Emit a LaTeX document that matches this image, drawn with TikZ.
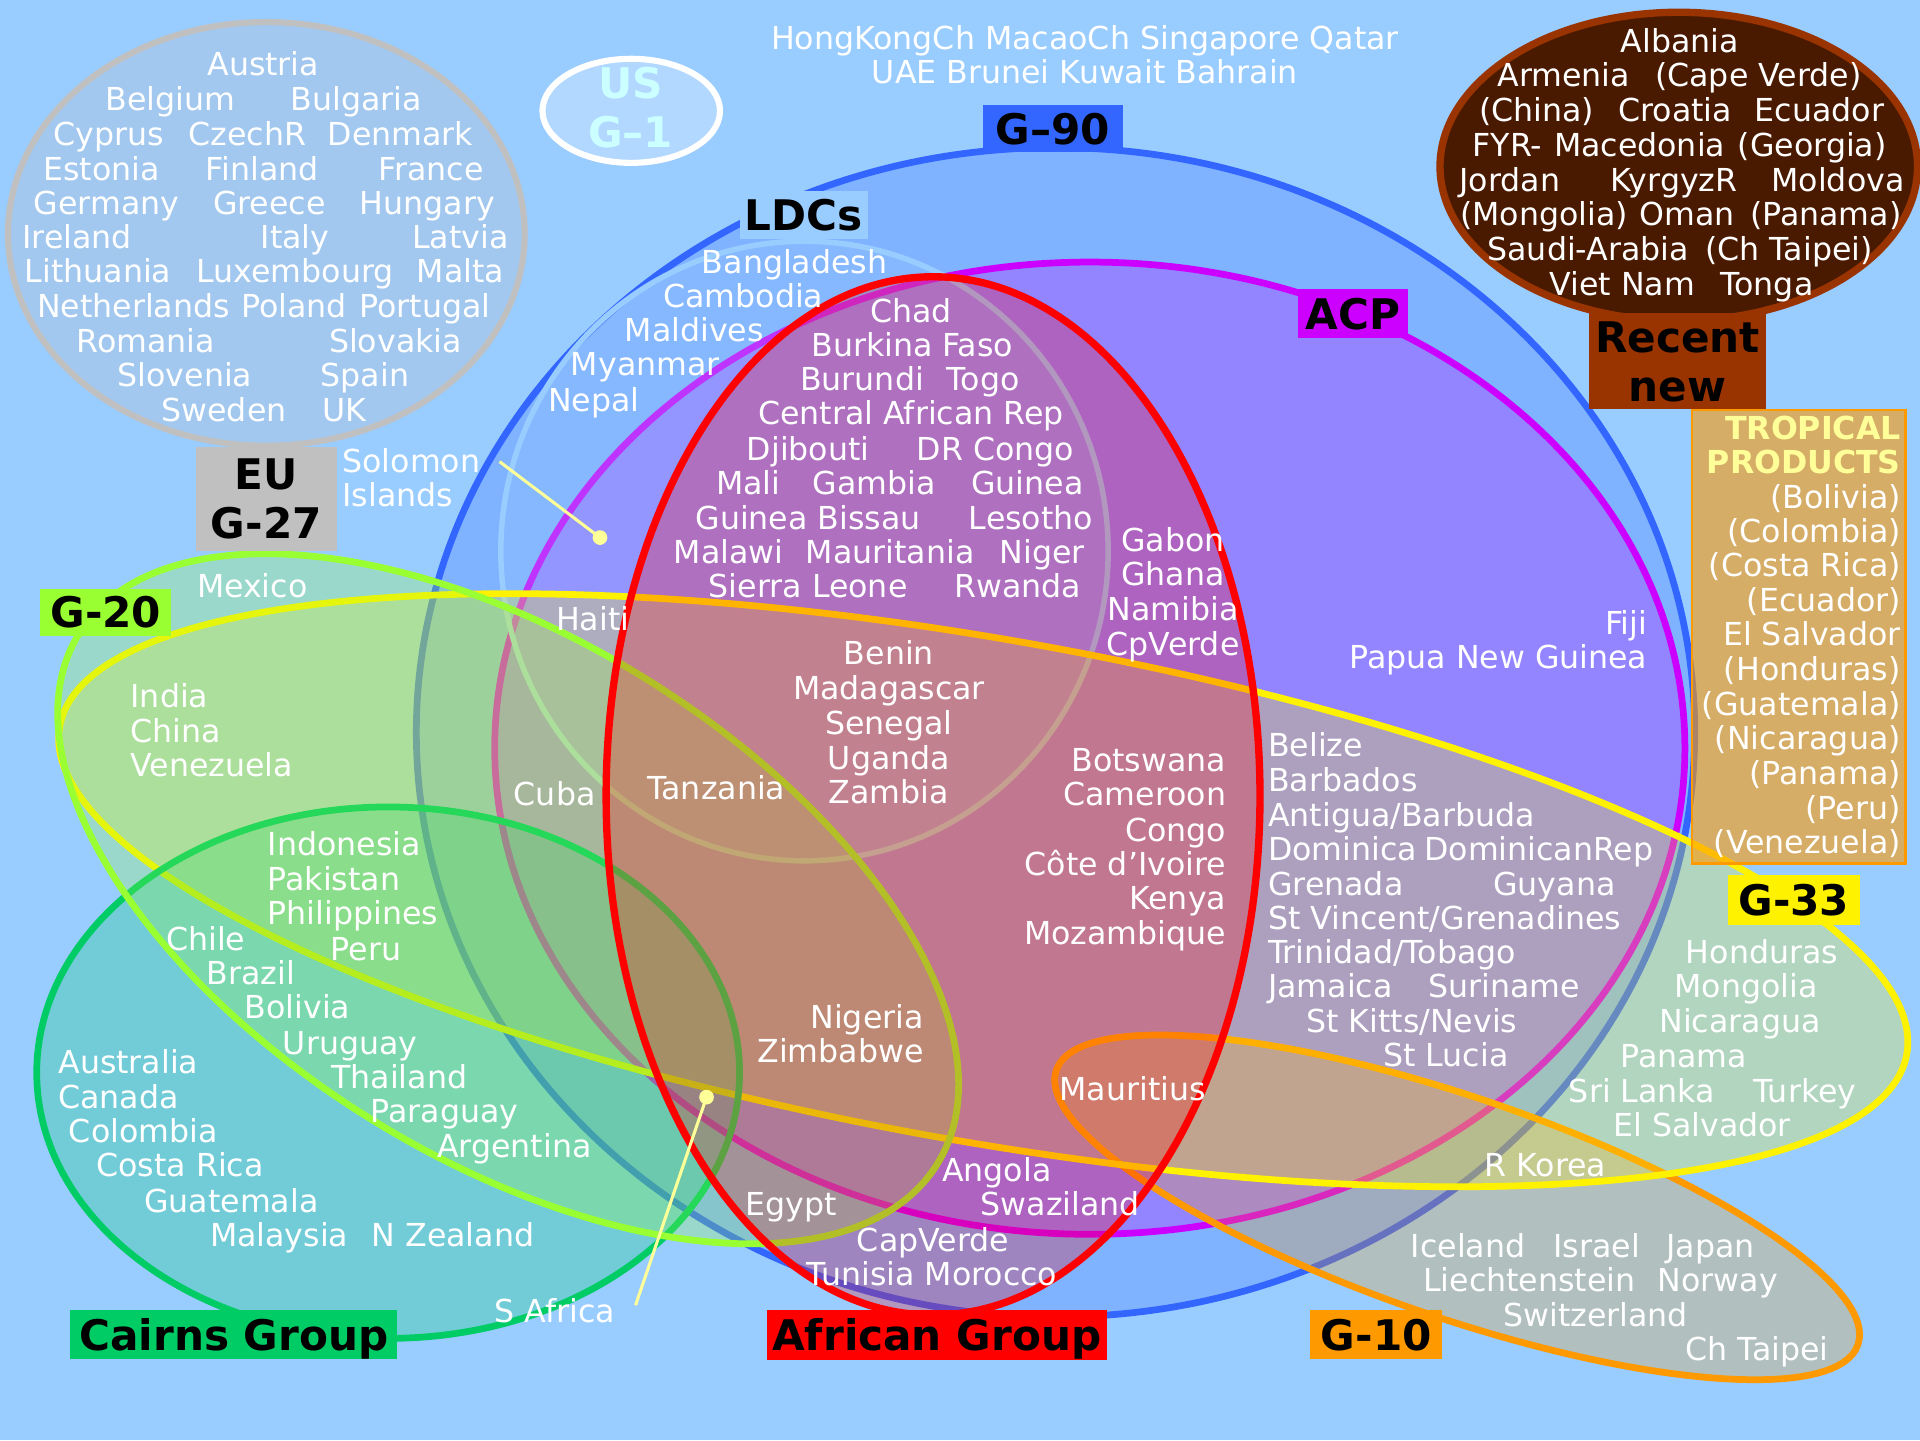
\documentclass[tikz,border=0pt]{standalone}
\usepackage{fontspec}
\setmainfont{DejaVu Sans}
\usetikzlibrary{positioning}

\definecolor{bgblue}{HTML}{99CCFF}
\definecolor{gnblue}{HTML}{3366FF}
\definecolor{acpmag}{HTML}{CC00FF}
\definecolor{gtwenty}{HTML}{99FF33}
\definecolor{cairns}{HTML}{00CC66}
\definecolor{gten}{HTML}{FF9900}
\definecolor{euGrey}{HTML}{C0C0C0}
\definecolor{recent}{HTML}{993300}
\definecolor{recentfill}{HTML}{4A1A00}
\definecolor{pinyellow}{HTML}{FFFF99}
\definecolor{uscyan}{HTML}{CCFFFF}

\tikzset{
  ring/.style={line width=0.55mm, fill opacity=0.25},
  nm/.style={text=white, font=\fontsize{7.35}{8}\selectfont, inner sep=0pt, anchor=base, yshift=-2.85pt},
  nml/.style={nm, anchor=base west},
  nmr/.style={nm, anchor=base east},
  tag/.style={font=\fontsize{9.8}{11.4}\selectfont\bfseries, inner sep=0pt, align=center, text depth=0pt},
  pin/.style={draw=pinyellow, line width=0.25mm},
}

\begin{document}
\begin{tikzpicture}[x=0.1mm, y=-0.1mm]
  \useasboundingbox (0,0) rectangle (1568,1176);
  \fill[bgblue] (0,0) rectangle (1568,1176);

  % groups standing apart
  \draw[ring, line width=0.5mm, draw=euGrey, fill=euGrey] (217.5,191) ellipse [x radius=21.1mm, y radius=17.3mm];
  \draw[ring, line width=0.5mm, draw=white, fill=white] (515.5,90.5) ellipse [x radius=7.25mm, y radius=4.25mm];
  \draw[line width=0.6mm, draw=recent, fill=recentfill] (1371,136) ellipse [x radius=19.5mm, y radius=12.6mm];

  % overlapping groups
  \draw[ring, draw=gnblue, fill=gnblue] (862,598) ellipse [x radius=52.2mm, y radius=47.75mm];
  \draw[ring, draw=acpmag, fill=acpmag] (890,611) ellipse [x radius=48.6mm, y radius=39.7mm];
  \draw[ring, line width=0.45mm, draw=bgblue, fill=bgblue] (657,450) ellipse [x radius=24.8mm, y radius=25.3mm];
  \draw[ring, draw=gten, fill=gten, rotate around={-18.9:(1190,986)}] (1190,986) ellipse [x radius=34.6mm, y radius=9mm];
  \draw[ring, draw=yellow, fill=yellow, rotate around={-10.06:(803,727)}] (803,727) ellipse [x radius=76.6mm, y radius=20.5mm];
  \draw[ring, draw=cairns, fill=cairns] (317,876) ellipse [x radius=28.7mm, y radius=21.7mm];
  \draw[ring, draw=gtwenty, fill=gtwenty, rotate around={-31.7:(415,734)}] (415,734) ellipse [x radius=41.2mm, y radius=21.2mm];
  \draw[ring, line width=0.6mm, draw=red, fill=red] (762,650) ellipse [x radius=26.7mm, y radius=42.4mm];

  % tropical products
  \draw[draw=gten, line width=0.2mm, fill=gten, fill opacity=0.6] (1382,335) rectangle (1556,705);

  % group tags
  \node[tag, fill=euGrey, minimum width=11.5mm, minimum height=8.5mm] (eutag) at (217.5,407.5) {EU\\G-27};
  \node[tag, fill=recent, minimum width=14.4mm, minimum height=7.8mm] (recenttag) at (1370,295) {Recent\\new};
  \node[tag, text=uscyan] (ustag) at (515,88) {US\\G–1};
  \node[tag, fill=gnblue, minimum width=11.4mm, minimum height=3.8mm] (g90tag) at (860,105) {G–90};
  \node[tag, fill=bgblue, minimum width=10.5mm, minimum height=3.9mm] (ldctag) at (656.5,175.5) {LDCs};
  \node[tag, fill=acpmag, minimum width=9mm, minimum height=4mm] (acptag) at (1105,256) {ACP};
  \node[tag, fill=gtwenty, minimum width=10.7mm, minimum height=3.8mm] (g20tag) at (86.5,500) {G-20};
  \node[tag, fill=yellow, minimum width=10.8mm, minimum height=4.1mm] (g33tag) at (1465,735) {G-33};
  \node[tag, fill=cairns, minimum width=26.7mm, minimum height=4mm] (cairnstag) at (191,1090) {Cairns Group};
  \node[tag, fill=red, minimum width=27.8mm, minimum height=4.1mm] (africantag) at (765,1090) {African Group};
  \node[tag, fill=gten, minimum width=10.8mm, minimum height=4mm] (g10tag) at (1124,1090) {G-10};

  % EU members
  \foreach \w/\x/\y [count=\i] in {Austria/215/52, Belgium/139/80, Bulgaria/291/80,
      Cyprus/89/109, CzechR/202/109, Denmark/327/109, Estonia/83/137, Finland/214/137, France/352/137,
      Germany/87/165, Greece/220/165, Hungary/349/165, Ireland/63/193, Italy/241/193, Latvia/376/193,
      Lithuania/80/221, Luxembourg/241/221, Malta/376/221, Netherlands/109/249, Poland/240/249,
      Portugal/347/249, Romania/119/278, Slovakia/323/278, Slovenia/151/306, Spain/298/306,
      Sweden/183/334, UK/281/334}
    \node[nm] (eu\i) at (\x,\y) {\w};

  % outside all groups
  \node[nm] (top1) at (886,30) {HongKongCh MacaoCh Singapore Qatar};
  \node[nm] (top2) at (886,58) {UAE Brunei Kuwait Bahrain};

  % recent new members
  \foreach \w/\x/\y [count=\i] in {Albania/1372/33, Armenia/1277/61, {(Cape Verde)}/1436/61,
      {(China)}/1255/89, Croatia/1368/89, Ecuador/1486/89, FYR-/1231/118, Macedonia/1339/118,
      {(Georgia)}/1480/118, Jordan/1233/146, KyrgyzR/1367/146, Moldova/1501/146,
      {(Mongolia)}/1261/174, Oman/1378/174, {(Panama)}/1491/174, Saudi-Arabia/1297/203,
      {(Ch Taipei)}/1461/203, {Viet Nam}/1325/231, Tonga/1443/231}
    \node[nm] (rn\i) at (\x,\y) {\w};

  % tropical products
  \node[nmr, text=pinyellow, font=\fontsize{7.35}{8}\selectfont\bfseries] (tp0) at (1553,349) {TROPICAL};
  \node[nmr, text=pinyellow, font=\fontsize{7.35}{8}\selectfont\bfseries] (tp00) at (1553,377) {PRODUCTS};
  \foreach \w/\y [count=\i] in {{(Bolivia)}/405, {(Colombia)}/433, {(Costa Rica)}/461, {(Ecuador)}/489,
      {El Salvador}/517, {(Honduras)}/546, {(Guatemala)}/574, {(Nicaragua)}/602, {(Panama)}/631,
      {(Peru)}/659, {(Venezuela)}/687}
    \node[nmr] (tp\i) at (1553,\y) {\w};

  % members, centred
  \foreach \w/\x/\y [count=\i] in {Bangladesh/649/213, Cambodia/607/241, Maldives/567/269,
      Myanmar/527/297, Nepal/485/326, Chad/744/253, {Burkina Faso}/745/281, Burundi/704/309,
      Togo/803/309, {Central African Rep}/744/337, Djibouti/660/366, {DR Congo}/813/366,
      Mali/611/394, Gambia/714/394, Guinea/839/394, {Guinea Bissau}/660/422, Lesotho/842/422,
      Malawi/595/450, Mauritania/727/450, Niger/851/450, {Sierra Leone}/660/478, Rwanda/831/478,
      Gabon/958/440, Ghana/958/468, Namibia/958/497, CpVerde/958/525,
      Haiti/484/505, Benin/726/533, Madagascar/726/561, Senegal/726/590, Uganda/726/618,
      Zambia/726/646, Tanzania/585/643, Cuba/453/648,
      Mexico/206/478, Chile/168/766, Peru/299/774, Brazil/205/794, Bolivia/243/822,
      Uruguay/286/851, Thailand/326/879, Paraguay/363/907, Argentina/420/935,
      Colombia/117/923, {Costa Rica}/147/951, Guatemala/189/980, Malaysia/228/1008,
      {N Zealand}/370/1008, {S Africa}/453/1070,
      Mauritius/925/889, Angola/814/955, Swaziland/866/983, Egypt/646/983, CapVerde/762/1012,
      {Tunisia Morocco}/761/1040,
      Honduras/1439/777, Mongolia/1426/805, Nicaragua/1421/833, Panama/1375/862,
      {Sri Lanka}/1341/890, Turkey/1474/890, {El Salvador}/1390/918, {R Korea}/1262/951,
      Iceland/1199/1017, Israel/1304/1017, Japan/1397/1017, Liechtenstein/1249/1045,
      Norway/1403/1045, Switzerland/1303/1073, {Ch Taipei}/1435/1101}
    \node[nm] (c\i) at (\x,\y) {\w};

  % members, flush left
  \foreach \w/\x/\y [count=\i] in {Solomon/279/376, Islands/279/404, India/106/568, China/106/596,
      Venezuela/106/624, Indonesia/218/689, Pakistan/218/717, Philippines/218/745,
      Australia/47/867, Canada/47/895, Belize/1035/608, Barbados/1035/636,
      {Antigua/Barbuda}/1035/665, Dominica/1035/693, Grenada/1035/721,
      {St Vincent/Grenadines}/1035/749, {Trinidad/Tobago}/1035/777, Jamaica/1035/805,
      {St Kitts/Nevis}/1066/833, {St Lucia}/1129/861}
    \node[nml] (l\i) at (\x,\y) {\w};

  % members, flush right
  \foreach \w/\x/\y [count=\i] in {Fiji/1346/508, {Papua New Guinea}/1346/536, Botswana/1002/620,
      Cameroon/1002/648, Congo/1002/677, {Côte d’Ivoire}/1002/705, Kenya/1002/733,
      Mozambique/1002/761, Nigeria/755/830, Zimbabwe/755/858, DominicanRep/1351/693,
      Guyana/1320/721, Suriname/1291/805}
    \node[nmr] (r\i) at (\x,\y) {\w};

  % pins
  \coordinate (solend) at (408,377);
  \coordinate (solpin) at (490,439);
  \coordinate (safend) at (519,1066);
  \coordinate (safpin) at (577,896);
  \draw[pin] (solend) -- (solpin);
  \draw[pin] (safend) -- (safpin);
  \fill[pinyellow] (solpin) circle [radius=0.6mm];
  \fill[pinyellow] (safpin) circle [radius=0.6mm];
\end{tikzpicture}
\end{document}
